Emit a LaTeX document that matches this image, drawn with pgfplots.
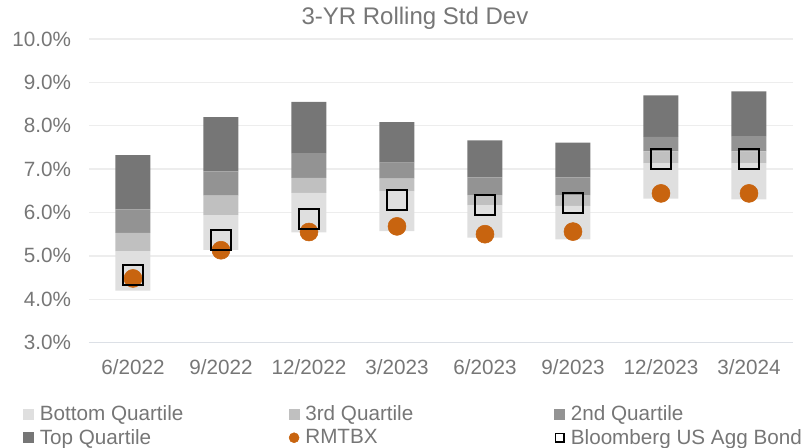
\documentclass[border=0pt]{standalone}
\usepackage{fontspec}
\setmainfont{Liberation Sans}
\usepackage{pgfplots}
\usepackage{pgfplotstable}
\pgfplotsset{compat=1.18}

\definecolor{cBot}{HTML}{DFDFDF}
\definecolor{cThird}{HTML}{C0C0C0}
\definecolor{cSecond}{HTML}{939393}
\definecolor{cTop}{HTML}{767676}
\definecolor{cFund}{HTML}{C8640F}
\definecolor{txt}{HTML}{767676}
\definecolor{gridc}{HTML}{EDEDED}
\definecolor{linec}{HTML}{DCE0E6}

% quartile boundaries (lo = bottom of range, hi = top), fund and benchmark
\pgfplotstableread{
x lo   q1   q2   q3   hi   fund bench
0 4.20 5.11 5.53 6.07 7.32 4.48 4.55
1 5.14 5.94 6.39 6.95 8.20 5.13 5.36
2 5.54 6.45 6.80 7.37 8.55 5.55 5.84
3 5.57 6.49 6.78 7.15 8.08 5.68 6.28
4 5.42 6.17 6.40 6.81 7.66 5.50 6.17
5 5.38 6.15 6.40 6.81 7.61 5.56 6.21
6 6.32 7.14 7.41 7.74 8.70 6.44 7.24
7 6.30 7.14 7.41 7.76 8.79 6.44 7.24
}\rolling

\pgfplotsset{frame/.style={
    scale only axis, width=528pt, height=227.8pt,
    xmin=-0.5, xmax=7.5, ymin=3, ymax=10, clip=false,
}}
\newcommand{\lfont}{\fontsize{15.5}{18}\selectfont}

\begin{document}
\begin{tikzpicture}
\begin{axis}[frame,
    ybar stacked, bar width=26.25pt,
    separate axis lines,
    axis x line*=bottom, axis y line*=left,
    x axis line style={linec, line width=1pt},
    y axis line style={draw=none},
    ymajorgrids, grid style={gridc, line width=1pt},
    ytick={3,4,...,10},
    xtick={0,...,7},
    xticklabels={6/2022,9/2022,12/2022,3/2023,6/2023,9/2023,12/2023,3/2024},
    major tick length=0pt,
    tick label style={font=\lfont, text=txt},
    yticklabel style={xshift=-10pt},
    xticklabel style={yshift=-9pt},
    /pgf/number format/assume math mode=true,
    yticklabel={\pgfmathprintnumber[fixed,fixed zerofill,precision=1]{\tick}\%},
    title={3-YR Rolling Std Dev},
    title style={at={(axis description cs:0.463,1.04)}, anchor=center,
        font=\fontsize{18}{20}\selectfont, text=txt},
]
\addplot[draw=none, fill=none, forget plot] table[x=x, y=lo]{\rolling};
\addplot[draw=none, fill=cBot] table[x=x, y expr=\thisrow{q1}-\thisrow{lo}]{\rolling};
\addplot[draw=none, fill=cThird] table[x=x, y expr=\thisrow{q2}-\thisrow{q1}]{\rolling};
\addplot[draw=none, fill=cSecond] table[x=x, y expr=\thisrow{q3}-\thisrow{q2}]{\rolling};
\addplot[draw=none, fill=cTop] table[x=x, y expr=\thisrow{hi}-\thisrow{q3}]{\rolling};
\end{axis}

\begin{axis}[frame, hide axis,
    legend columns=3,
    legend cell align=left,
    legend style={at={(axis description cs:-0.0994,-0.1976)}, anchor=north west,
        draw=none, fill=none, font=\lfont, text=txt,
        nodes={inner sep=0pt},
        row sep=5pt,
        /tikz/every odd column/.style={column sep=4.5pt}},
]
\addlegendimage{legend image code/.code={\fill[cBot] (0pt,-3.75pt) rectangle (7.5pt,3.75pt);}}
\addlegendentry{\makebox[186.75pt][l]{Bottom Quartile}}
\addlegendimage{legend image code/.code={\fill[cThird] (0pt,-3.75pt) rectangle (7.5pt,3.75pt);}}
\addlegendentry{\makebox[186.75pt][l]{3rd Quartile}}
\addlegendimage{legend image code/.code={\fill[cSecond] (0pt,-3.75pt) rectangle (7.5pt,3.75pt);}}
\addlegendentry{2nd Quartile}
\addlegendimage{legend image code/.code={\fill[cTop] (0pt,-3.75pt) rectangle (7.5pt,3.75pt);}}
\addlegendentry{Top Quartile}
\addplot[only marks, color=cFund, mark=*, mark size=6.75pt, mark options={draw=cFund, fill=cFund},
    legend image code/.code={\fill[cFund] (3.75pt,0pt) circle (3.75pt);}]
    table[x=x, y=fund]{\rolling};
\addlegendentry{RMTBX}
\addplot[only marks, color=black, mark=square, mark size=7.5pt, mark options={draw=black, line width=1.5pt},
    legend image code/.code={\draw[black, line width=1.2pt] (0.6pt,-3.15pt) rectangle (6.9pt,3.15pt);}]
    table[x=x, y=bench]{\rolling};
\addlegendentry{Bloomberg US Agg Bond}
\end{axis}
\pgfresetboundingbox
\path[use as bounding box] (-66.75pt,-79pt) rectangle (538.5pt,257pt);
\end{tikzpicture}
\end{document}
